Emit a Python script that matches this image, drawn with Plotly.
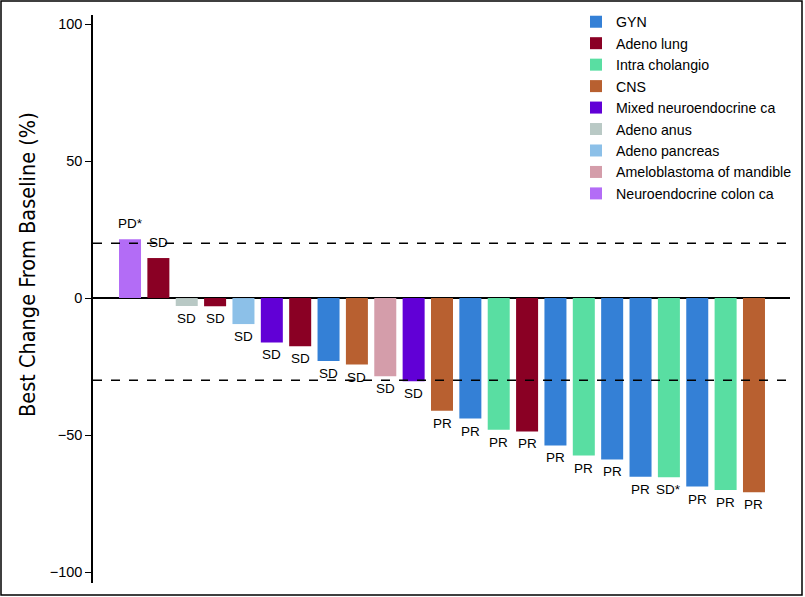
import plotly.graph_objects as go

# ---- data ----
categories = ["GYN", "Adeno lung", "Intra cholangio", "CNS", "Mixed neuroendocrine ca",
              "Adeno anus", "Adeno pancreas", "Ameloblastoma of mandible", "Neuroendocrine colon ca"]
colors = ["#3480D6", "#8A0024", "#59DEA2", "#B86030", "#6100D6",
          "#B9C9C5", "#8CC0E8", "#D49DAA", "#B36CF6"]

patient_idx = list(range(23))
patient_type = ["Neuroendocrine colon ca", "Adeno lung", "Adeno anus", "Adeno lung", "Adeno pancreas",
                "Mixed neuroendocrine ca", "Adeno lung", "GYN", "CNS", "Ameloblastoma of mandible",
                "Mixed neuroendocrine ca", "CNS", "GYN", "Intra cholangio", "Adeno lung", "GYN",
                "Intra cholangio", "GYN", "GYN", "Intra cholangio", "GYN", "Intra cholangio", "CNS"]
best_change = [21.5, 14.6, -2.9, -3.0, -9.5, -16.2, -17.6, -23.0, -24.3, -28.5, -30.4, -41.1,
               -44.0, -48.1, -48.7, -53.8, -57.5, -58.9, -65.2, -65.4, -68.8, -70.1, -70.9]
response = ["PD*", "SD", "SD", "SD", "SD", "SD", "SD", "SD", "SD", "SD", "SD", "PR",
            "PR", "PR", "PR", "PR", "PR", "PR", "PR", "SD*", "PR", "PR", "PR"]
pd_threshold = 20
pr_threshold = -30
y_title = "Best Change From Baseline (%)"

FONT = "Liberation Sans, Arial, Helvetica, sans-serif"

fig = go.Figure()
for cat, col in zip(categories, colors):
    ids = [i for i, t in enumerate(patient_type) if t == cat]
    fig.add_trace(go.Bar(
        x=[patient_idx[i] for i in ids],
        y=[best_change[i] for i in ids],
        name=cat,
        width=0.776,
        marker=dict(color=col, line=dict(width=0)),
        hovertemplate="%{y}<extra>" + cat + "</extra>",
    ))

# response labels at bar ends
for i, v, r in zip(patient_idx, best_change, response):
    fig.add_annotation(x=i, y=v, text=r, showarrow=False,
                       yanchor="bottom" if v >= 0 else "top",
                       yshift=6 if v >= 0 else -3,
                       font=dict(family=FONT, size=13.5, color="black"))

L, R, T, B = 93, 15, 15, 14
W, H = 805, 597
pw, ph = W - L - R, H - T - B

for yv in (pd_threshold, pr_threshold):
    fig.add_shape(type="line", xref="paper", x0=0, x1=1, yref="y", y0=yv, y1=yv,
                  line=dict(color="black", width=1.5, dash="dash"), layer="above")

# figure frame
fig.add_shape(type="rect", xref="paper", yref="paper",
              x0=-(L - 1) / pw, x1=1 + (R - 3) / pw,
              y0=-(B - 2) / ph, y1=1 + (T - 1) / ph,
              line=dict(color="black", width=1.5), fillcolor="rgba(0,0,0,0)")

# y-axis title (placed as a rotated annotation to match the reference position)
fig.add_annotation(text=y_title, xref="paper", yref="paper",
                   x=-(L - 27) / pw, y=(H - B - 265) / ph, textangle=-90,
                   showarrow=False, xanchor="center", yanchor="middle",
                   font=dict(family="DejaVu Sans Condensed, Liberation Sans Narrow, Roboto Condensed, Arial Narrow, Liberation Sans",
                             size=21.5, color="black"))

fig.update_layout(
    width=W, height=H,
    margin=dict(l=L, r=R, t=T, b=B, autoexpand=False),
    paper_bgcolor="white", plot_bgcolor="white",
    barmode="overlay",
    font=dict(family=FONT, color="black"),
    showlegend=True,
    legend=dict(x=(590 - L - 14) / pw, y=1 + 9 / ph, xanchor="left", yanchor="top",
                font=dict(size=14.2, color="black"), bgcolor="rgba(0,0,0,0)",
                tracegroupgap=0),
    xaxis=dict(range=[-1.305, 23.27], showticklabels=False, ticks="", showgrid=False,
               zeroline=False, showline=False),
    yaxis=dict(range=[-104, 103.3], tickvals=[-100, -50, 0, 50, 100],
               ticks="outside", ticklen=6, tickwidth=1.2, tickcolor="black",
               showline=True, linecolor="black", linewidth=1.5,
               showgrid=False, zeroline=True, zerolinecolor="black", zerolinewidth=1.5,
               tickfont=dict(size=14.5, color="black")),
)

fig.write_html("out.html", config={"displayModeBar": False},
               post_script="document.body.style.margin='0';document.body.style.padding='0';")
